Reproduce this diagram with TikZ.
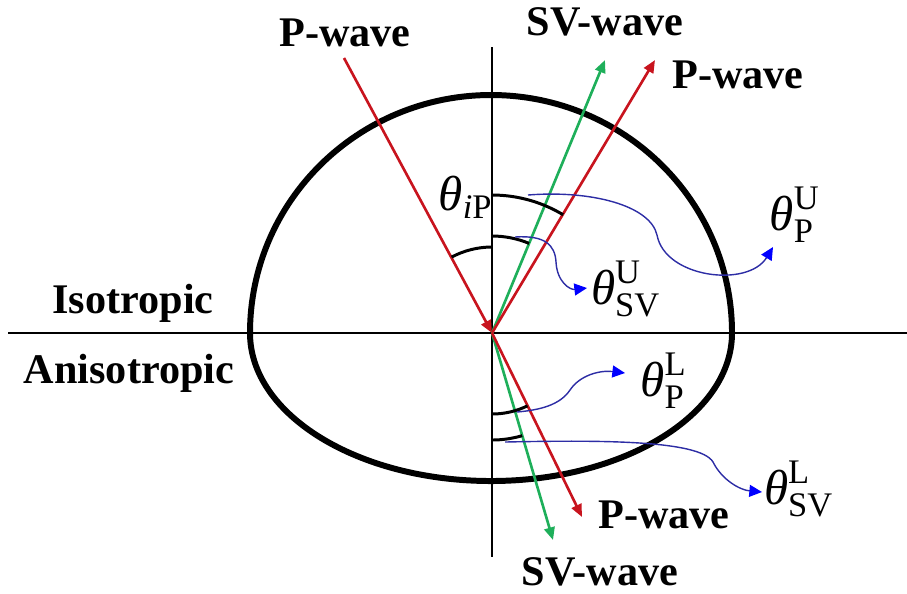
\documentclass[tikz,border=0pt]{standalone}
\usepackage{fontspec}
\setmainfont{Liberation Serif}
\usepackage{amsmath}
\usetikzlibrary{arrows.meta}

\definecolor{pred}{RGB}{200,20,30}
\definecolor{svgreen}{RGB}{30,175,90}
\definecolor{linkblue}{RGB}{45,45,165}
\newcommand{\thlab}[2]{$\mbox{\itshape θ}^{\mathrm{#1}}_{\mathrm{#2}}$}

\begin{document}
\begin{tikzpicture}[x=0.01cm, y=-0.01cm,
  wave/.style={font=\fontsize{12}{14}\selectfont\bfseries, inner sep=0pt},
  anglab/.style={font=\fontsize{14}{16}\selectfont, inner sep=0pt},
  pray/.style={draw=pred, line width=0.75pt, -{Triangle[length=3.6pt, width=3pt]}},
  svray/.style={draw=svgreen, line width=0.75pt, -{Triangle[length=3.6pt, width=3pt]}},
  anglemark/.style={line width=0.85pt},
  link/.style={draw=linkblue, line width=0.4pt, -{Triangle[length=3.6pt, width=3.4pt, color=blue]}}]

\useasboundingbox (0,0) rectangle (907,593);

% Interface and normal
\coordinate (O) at (492,333);
\coordinate (hl) at (8,333);
\coordinate (hr) at (907,333);
\coordinate (vt) at (492,47);
\coordinate (vb) at (492,557);
\draw[line width=0.8pt] (hl) -- (hr);
\draw[line width=0.8pt] (vt) -- (vb);

% Slowness surfaces
\draw[line width=1.7pt] (250,333) arc[start angle=180, end angle=360, x radius=241, y radius=238];
\draw[line width=1.7pt] (250,333) arc[start angle=180, end angle=0, x radius=241, y radius=148];

% Media
\node[wave, anchor=base] (iso) at (133,313) {Isotropic};
\node[wave, anchor=base] (aniso) at (129,383) {Anisotropic};

% Rays
\coordinate (Pin) at (344,58);
\coordinate (Pup) at (655,60);
\coordinate (SVup) at (605,60);
\coordinate (Pdn) at (582,517);
\coordinate (SVdn) at (553,540);
\draw[pray] (Pin) -- (O);
\draw[svray] (O) -- (SVup);
\draw[pray] (O) -- (Pup);
\draw[svray] (O) -- (SVdn);
\draw[pray] (O) -- (Pdn);

\node[wave] (pin) at (345,33) {P-wave};
\node[wave] (svup) at (605,22) {SV-wave};
\node[wave] (pup) at (738,75) {P-wave};
\node[wave] (pdn) at (664,515) {P-wave};
\node[wave] (svdn) at (600,572) {SV-wave};

% Angle marks
\draw[anglemark] (O) ++(270:86) arc[start angle=270, end angle=242, radius=86];
\draw[anglemark] (O) ++(270:138) arc[start angle=270, end angle=301, radius=138];
\draw[anglemark] (O) ++(270:97) arc[start angle=270, end angle=292.5, radius=97];
\draw[anglemark] (O) ++(90:81) arc[start angle=90, end angle=64, radius=81];
\draw[anglemark] (O) ++(90:107) arc[start angle=90, end angle=73.6, radius=107];

% Angle labels
\node[anglab] (liP) at (466,197) {$\mbox{\itshape θ}_{\mathit{i}\mathrm{P}}$};
\node[anglab] (lSVU) at (626,289) {\thlab{U}{SV}};
\node[anglab] (lPU) at (795,215) {\thlab{U}{P}};
\node[anglab] (lPL) at (664,381) {\thlab{L}{P}};
\node[anglab] (lSVL) at (799,489) {\thlab{L}{SV}};

% Pointers
\coordinate (aPU) at (528,195);
\coordinate (aSVU) at (515,237);
\coordinate (aPL) at (517,412);
\coordinate (aSVL) at (505,442);
\coordinate (tPU) at (773,247);
\coordinate (tSVU) at (587,288);
\coordinate (tPL) at (625,373);
\coordinate (tSVL) at (762,492);
\draw[link] (aPU) .. controls (590,190) and (650,205) .. (657,235) .. controls (665,278) and (748,288) .. (tPU);
\draw[link] (aSVU) .. controls (545,235) and (555,245) .. (556,262) .. controls (557,282) and (570,290) .. (tSVU);
\draw[link] (aPL) .. controls (540,410) and (560,405) .. (570,390) .. controls (580,375) and (600,370) .. (tPL);
\draw[link] (aSVL) .. controls (600,440) and (700,440) .. (713,462) .. controls (722,480) and (740,490) .. (tSVL);

\end{tikzpicture}
\end{document}
